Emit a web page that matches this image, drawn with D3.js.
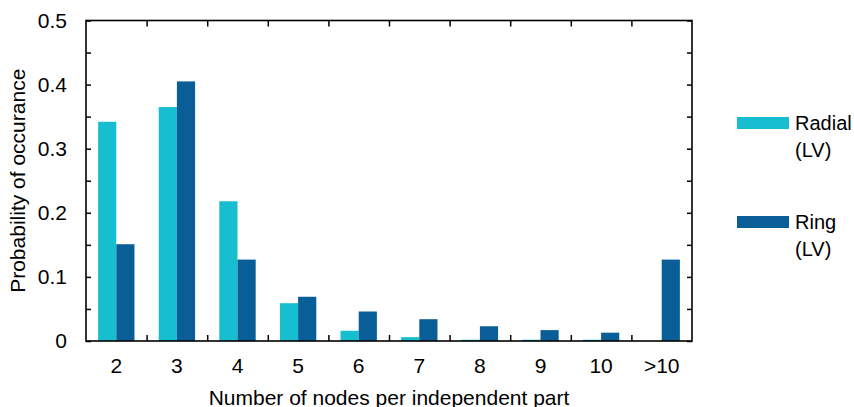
<!DOCTYPE html>
<html>
<head>
<meta charset="utf-8">
<script src="https://cdn.jsdelivr.net/npm/d3@7"></script>
<style>
  html, body { margin: 0; padding: 0; background: #fff; }
  svg { display: block; font-family: "Liberation Sans", Arial, sans-serif; }
</style>
</head>
<body>
<svg id="chart" width="854" height="407"></svg>
<script>
// Part sizes (number of nodes per independent part)
const categories = ["2", "3", "4", "5", "6", "7", "8", "9", "10", ">10"];
// Probability of occurrence per topology
const radialLV = [0.342, 0.365, 0.218, 0.059, 0.016, 0.006, 0.002, 0.002, 0.002, 0.0];
const ringLV   = [0.151, 0.405, 0.127, 0.069, 0.046, 0.034, 0.023, 0.017, 0.013, 0.127];
const seriesNames = ["Radial", "Ring"];
const yTicks = [0, 0.1, 0.2, 0.3, 0.4, 0.5];
const yMinorTicks = [0, 0.05, 0.1, 0.15, 0.2, 0.25, 0.3, 0.35, 0.4, 0.45, 0.5];

const colors = { Radial: "#17becf", Ring: "#0a5e98" };

const svg = d3.select("#chart");
const plotL = 86, plotR = 692, plotT = 20.5, plotB = 341;

const x = d3.scaleBand().domain(categories).range([plotL, plotR]).padding(0);
const edge = d3.scaleLinear().domain([0, categories.length]).range([plotL, plotR]);
const y = d3.scaleLinear().domain([0, 0.5]).range([plotB, plotT]);
const inner = d3.scaleBand().domain(seriesNames).range([0, x.bandwidth()]).paddingOuter(0.6667).paddingInner(0);

const rows = categories.map((c, i) => ({ cat: c, Radial: radialLV[i], Ring: ringLV[i] }));

// Bars
const g = svg.append("g");
rows.forEach(r => {
  seriesNames.forEach(s => {
    g.append("rect")
      .attr("x", x(r.cat) + inner(s))
      .attr("width", inner.bandwidth())
      .attr("y", y(r[s]))
      .attr("height", Math.max(0, y(0) - y(r[s])))
      .attr("fill", colors[s]);
  });
});

// Frame ticks (inward)
const boundaryTicks = d3.range(1, categories.length);
function styleAxis(sel) {
  sel.select(".domain").remove();
  sel.selectAll(".tick line").attr("stroke", "#000").attr("stroke-width", 1.5);
}
svg.append("g").attr("transform", `translate(${plotL},0)`)
  .call(d3.axisLeft(y).tickValues(yMinorTicks).tickSize(-5).tickFormat(""))
  .call(styleAxis);
svg.append("g").attr("transform", `translate(${plotR},0)`)
  .call(d3.axisRight(y).tickValues(yMinorTicks).tickSize(-5).tickFormat(""))
  .call(styleAxis);
svg.append("g").attr("transform", `translate(0,${plotT})`)
  .call(d3.axisTop(edge).tickValues(boundaryTicks).tickSize(-6).tickFormat(""))
  .call(styleAxis);
svg.append("g").attr("transform", `translate(0,${plotB})`)
  .call(d3.axisBottom(edge).tickValues(boundaryTicks).tickSize(-6).tickFormat(""))
  .call(styleAxis);

// Frame
svg.append("rect")
  .attr("x", plotL).attr("y", plotT)
  .attr("width", plotR - plotL).attr("height", plotB - plotT)
  .attr("fill", "none").attr("stroke", "#000").attr("stroke-width", 1.6);

// Y tick labels
const yLab = svg.append("g").attr("transform", `translate(${plotL},0)`)
  .call(d3.axisLeft(y).tickValues(yTicks).tickSize(0).tickPadding(19).tickFormat(d => d === 0 ? "0" : d3.format(".1f")(d)));
yLab.select(".domain").remove();
yLab.selectAll("text").attr("font-size", 21).attr("fill", "#000").attr("font-family", "Liberation Sans, Arial, sans-serif");

// X tick labels
const xLab = svg.append("g").attr("transform", `translate(0,${plotB})`)
  .call(d3.axisBottom(x).tickSize(0).tickPadding(17));
xLab.select(".domain").remove();
xLab.selectAll("text").attr("font-size", 21).attr("fill", "#000").attr("font-family", "Liberation Sans, Arial, sans-serif");

// Axis titles
svg.append("text")
  .attr("x", (plotL + plotR) / 2).attr("y", 405)
  .attr("text-anchor", "middle").attr("font-size", 21)
  .text("Number of nodes per independent part");
svg.append("text")
  .attr("transform", `translate(25,${(plotT + plotB) / 2}) rotate(-90)`)
  .attr("text-anchor", "middle").attr("font-size", 21)
  .text("Probability of occurance");

// Legend
const legend = [
  { name: "Radial", y: 117 },
  { name: "Ring", y: 216 }
];
legend.forEach(l => {
  svg.append("rect").attr("x", 737).attr("y", l.y).attr("width", 52).attr("height", 12)
    .attr("fill", colors[l.name]);
  const t = svg.append("text").attr("x", 795).attr("y", l.y + 13).attr("font-size", 20);
  t.append("tspan").attr("x", 795).text(l.name);
  t.append("tspan").attr("x", 795).attr("dy", 27).text("(LV)");
});
</script>
</body>
</html>
